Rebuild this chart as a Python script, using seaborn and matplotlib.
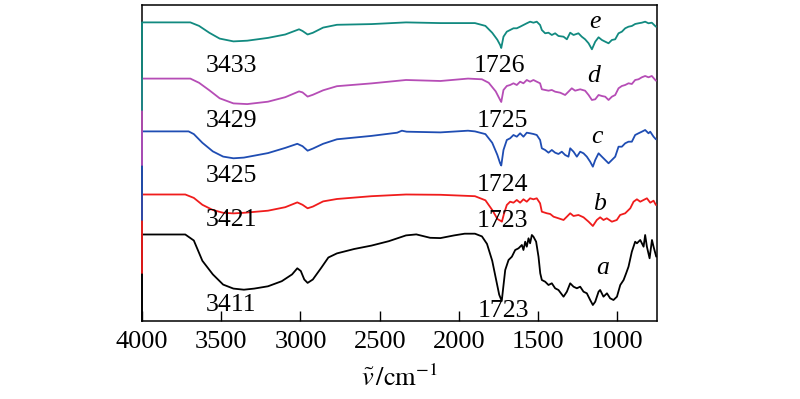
import pandas as pd
import matplotlib
matplotlib.use("Agg")
import matplotlib.pyplot as plt
import seaborn as sns

# =====================================================
# DATA (wavenumber in cm-1, offset transmittance in a.u.)
# first point of each curve is the short drop drawn at 4000
# =====================================================

wn_a = [4000, 4000, 3727, 3673, 3619, 3553, 3488, 3423, 3357, 3292, 3205, 3118, 3053, 3020,
        2998, 2976, 2955, 2922, 2868, 2824, 2770, 2661, 2552, 2443, 2334, 2269, 2182, 2117,
        2030, 1964, 1899, 1855, 1823, 1790, 1768, 1746, 1730, 1708, 1687, 1666, 1645, 1624,
        1603, 1593, 1582, 1572, 1561, 1551, 1540, 1530, 1513, 1498, 1487, 1477, 1456, 1435,
        1414, 1393, 1372, 1340, 1319, 1298, 1277, 1256, 1235, 1214, 1193, 1172, 1155, 1140,
        1119, 1109, 1088, 1066, 1046, 1025, 1003, 982, 961, 945, 930, 909, 888, 877, 856,
        835, 825, 814, 797, 782, 772, 755]
t_a = [0, 86.5, 86.5, 80.5, 60.2, 46.6, 36.4, 32.4, 31.3, 32.4, 34.7, 39.8, 46.6, 52.7,
       50, 41.5, 38.1, 41.5, 53.4, 63.5, 67.6, 72, 75.4, 79.8, 85.6, 86.6, 83.2, 82.9,
       85.6, 87.3, 87.3, 84.6, 77.1, 60.2, 43.2, 26.3, 20, 51, 61, 64.3, 71, 72.7,
       76, 71, 79.3, 74.3, 82.7, 77.7, 86, 84.3, 79.3, 64.3, 47.7, 41, 39.3, 36,
       37.7, 32.7, 31, 24.3, 29.3, 37.7, 34.3, 32.7, 34.3, 29.3, 27.7, 21, 16, 19.3,
       29.3, 31, 24.3, 27.7, 22.7, 21, 24.3, 36, 41, 47.7, 54.3, 69.3, 79.3, 77.7, 81,
       74.3, 86, 74.3, 62.7, 81, 74.3, 64.3]

wn_b = [4000, 4000, 3727, 3673, 3619, 3553, 3488, 3423, 3357, 3205, 3096, 3020, 2987, 2955,
        2922, 2857, 2770, 2552, 2334, 2117, 1899, 1833, 1790, 1757, 1735, 1729, 1715, 1698,
        1677, 1656, 1635, 1614, 1593, 1572, 1551, 1530, 1509, 1488, 1477, 1445, 1424, 1403,
        1372, 1340, 1319, 1298, 1277, 1246, 1214, 1182, 1155, 1130, 1109, 1088, 1067, 1035,
        1004, 983, 951, 919, 898, 877, 856, 835, 814, 793, 772, 757]
t_b = [48, 126.5, 126.5, 123.1, 116.2, 111, 108.2, 107.6, 108.2, 110.3, 113.8, 118.6, 116.2, 112.7,
       114.4, 119.6, 122, 124.8, 126.5, 126.2, 124.8, 120.7, 111, 102, 100, 99.3, 107.7, 116,
       119.3, 118.3, 121, 118.3, 121.7, 119.3, 122.7, 121.7, 122.7, 117.7, 109.3, 107.7, 107, 104.3,
       102.7, 101, 104.3, 107.7, 105, 106, 103.7, 99.3, 95, 101, 103.7, 101, 102.7, 99.3,
       101, 106, 107.7, 112.7, 119.3, 121.7, 119.3, 121, 122.7, 118.3, 120.3, 116]

wn_c = [4000, 4000, 3706, 3673, 3619, 3553, 3488, 3423, 3357, 3205, 3096, 3020, 2987, 2955,
        2922, 2857, 2770, 2552, 2390, 2360, 2330, 2117, 1943, 1899, 1833, 1790, 1758, 1740,
        1733, 1719, 1698, 1677, 1656, 1635, 1614, 1593, 1572, 1551, 1530, 1509, 1488, 1477,
        1456, 1435, 1414, 1393, 1372, 1351, 1330, 1309, 1298, 1277, 1256, 1235, 1214, 1193,
        1172, 1155, 1140, 1119, 1098, 1077, 1056, 1035, 1014, 993, 972, 951, 930, 909, 888,
        867, 846, 825, 804, 793, 772, 757]
t_c = [101, 189.6, 189.6, 186.9, 178.2, 169.6, 164.4, 162.7, 163.4, 167.9, 173.1, 177.2, 174.8, 170.3,
       172.4, 177.2, 181.7, 185.1, 188.3, 190.3, 189.3, 188.6, 190.3, 189.6, 186.9, 178.2, 166.2, 157.6,
       155.5, 171, 181, 182.7, 186, 184.3, 187.7, 184.3, 188.3, 187.7, 187, 186, 181, 172.7,
       171, 168.3, 171, 168.3, 167, 169.3, 166, 164.3, 172.7, 169.3, 164.3, 169.3, 167.7, 164.3,
       159.3, 154.3, 161, 167.7, 164.3, 161, 157.7, 161, 164.3, 174.3, 174.3, 177.7, 179.3, 179.3, 186,
       187.7, 189.3, 191, 187.7, 189.3, 184.3, 181.7]

wn_d = [4000, 4000, 3695, 3640, 3575, 3510, 3423, 3336, 3205, 3096, 3009, 2987, 2955, 2922,
        2857, 2770, 2552, 2334, 2117, 1943, 1855, 1812, 1768, 1740, 1733, 1719, 1698, 1677,
        1656, 1635, 1614, 1593, 1572, 1551, 1530, 1509, 1488, 1477, 1456, 1435, 1414, 1393,
        1361, 1330, 1309, 1288, 1267, 1235, 1204, 1182, 1161, 1140, 1119, 1098, 1077, 1056,
        1035, 1014, 993, 972, 951, 930, 909, 888, 867, 846, 825, 804, 783, 757]
t_d = [156, 242.4, 242.4, 238.2, 230.7, 222.7, 217.6, 216.9, 219.3, 223.8, 229.6, 228.6, 224.4, 226.2,
       230.7, 234.8, 237.6, 241, 240, 242.4, 241.7, 238.2, 229.6, 221, 219, 231, 235, 236,
       237.7, 236, 239.3, 237.7, 241, 239.3, 241, 239.3, 237.7, 231.7, 231, 230.3, 231, 229.3,
       228.3, 226, 229.3, 232.7, 230.3, 231.7, 230.3, 226, 221, 221.7, 226, 225, 224.3, 221,
       224.3, 226, 232.7, 235, 236, 237.7, 237, 241, 241.7, 243.7, 245, 243.7, 245, 240.3]

wn_e = [4000, 4000, 3695, 3640, 3575, 3510, 3423, 3336, 3205, 3096, 3009, 2987, 2955, 2922,
        2857, 2770, 2552, 2334, 2117, 1899, 1833, 1790, 1758, 1740, 1733, 1719, 1698, 1677,
        1656, 1635, 1614, 1593, 1572, 1551, 1530, 1509, 1488, 1477, 1456, 1435, 1414, 1393,
        1372, 1340, 1319, 1298, 1277, 1246, 1225, 1204, 1182, 1161, 1140, 1119, 1098, 1077,
        1056, 1035, 1014, 993, 972, 951, 930, 909, 888, 867, 846, 825, 804, 783, 757]
t_e = [211, 298.6, 298.6, 295.1, 288.2, 282.4, 279.6, 280.3, 283.1, 286.5, 291.7, 290, 286.5, 288.2,
       293.4, 296.2, 296.9, 298.6, 297.9, 297.9, 295.1, 288.2, 281.3, 276, 273, 284.3, 289.3, 291,
       292.7, 292.7, 294.3, 296, 297.7, 299.3, 298.3, 299.3, 296, 291, 287.7, 288.3, 286, 287.7,
       285, 284.3, 281.7, 288.3, 286, 287.7, 284.3, 281.7, 277.7, 271.7, 279.3, 283.7, 281, 279.3,
       277.7, 281, 281.7, 287.7, 289.3, 292.7, 294.3, 295, 297, 297.7, 298.3, 299.3, 297.7, 298.3, 294.3]

curve_names = ["a", "b", "c", "d", "e"]
curve_colors = ["#000000", "#f01c1c", "#1f4db3", "#b64db6", "#128a80"]

# peak labels: (text, wavenumber, baseline value)
peak_text = ["3411", "1723", "3421", "1723", "3425", "1724", "3429", "1725", "3433", "1726"]
peak_x = [3438, 1722, 3438, 1727, 3438, 1727, 3438, 1727, 3438, 1746]
peak_y = [10, 4, 95, 94, 139, 130, 194, 194, 249, 249]

# curve letters
letter_x = [1096, 1115, 1128, 1147, 1140]
letter_y = [47, 111, 178, 239, 293]

x_ticks = [4000, 3500, 3000, 2500, 2000, 1500, 1000]

# =====================================================
# STYLE
# =====================================================

sns.set_style("ticks")
plt.rcParams["font.family"] = ["Liberation Serif", "DejaVu Serif"]
plt.rcParams["mathtext.fontset"] = "stix"
plt.rcParams["text.color"] = "black"
plt.rcParams["axes.labelcolor"] = "black"

frames = []
for name, wn, t in zip(curve_names,
                       [wn_a, wn_b, wn_c, wn_d, wn_e],
                       [t_a, t_b, t_c, t_d, t_e]):
    frames.append(pd.DataFrame({"wavenumber": wn, "T": t, "sample": name}))
df = pd.concat(frames, ignore_index=True)

# =====================================================
# PLOT
# =====================================================

fig = plt.figure(figsize=(8, 3.99), dpi=100)
ax = fig.add_axes([0.1775, 0.1955, 0.6438, 0.792])

for name, color in zip(curve_names, curve_colors):
    sns.lineplot(
        data=df[df["sample"] == name],
        x="wavenumber",
        y="T",
        color=color,
        linewidth=1.3,
        sort=False,
        estimator=None,
        zorder=3,
        clip_on=False,
        ax=ax
    )

for txt, px, py in zip(peak_text, peak_x, peak_y):
    ax.text(px, py, txt, fontsize=18.5, ha="center", va="baseline", color="black")

for name, lx, ly in zip(curve_names, letter_x, letter_y):
    ax.text(lx, ly, name, fontsize=18.5, style="italic", ha="center",
            va="baseline", color="black")

ax.set_xlim(4000, 750)
ax.set_ylim(0, 316)
ax.set_xticks(x_ticks)
ax.set_yticks([])
ax.set_xlabel(r"$\tilde{v}\,/\mathrm{cm}^{-1}$", fontsize=19, labelpad=9)
ax.set_ylabel("")

ax.tick_params(axis="x", direction="in", length=7, width=1,
               labelsize=19, pad=7, colors="black")
for side in ["top", "right", "bottom", "left"]:
    ax.spines[side].set_visible(True)
    ax.spines[side].set_linewidth(1.1)
    ax.spines[side].set_color("black")
    ax.spines[side].set_zorder(2)

fig.savefig("out.png", dpi=100)
plt.close(fig)
